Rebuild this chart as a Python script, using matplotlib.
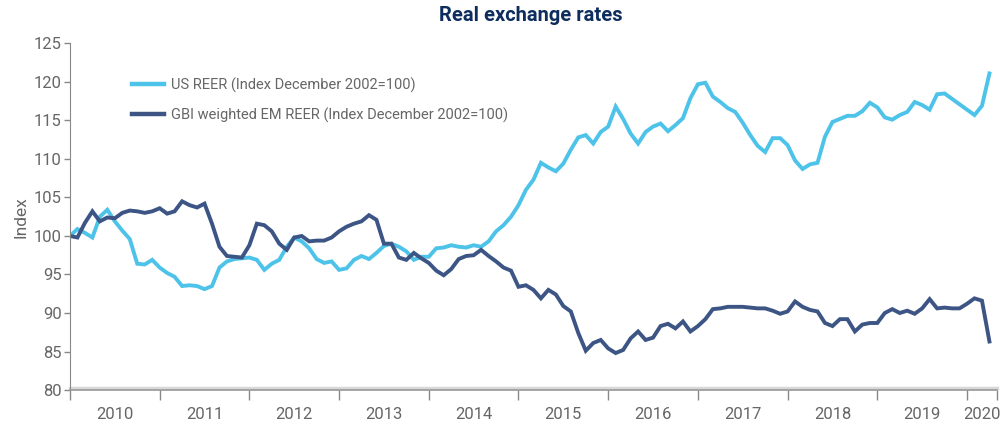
import numpy as np
import matplotlib
matplotlib.use("Agg")
from matplotlib import pyplot as plt
import matplotlib.ticker as ticker

plt.rcParams['font.family'] = ['Roboto', 'DejaVu Sans']

# monthly values, Jan 2010 .. Apr 2020
us_reer = [100.0, 100.9, 100.4, 99.8, 102.5, 103.4, 101.9, 100.7, 99.6, 96.4, 96.3, 96.9,
           95.9, 95.2, 94.7, 93.5, 93.6, 93.5, 93.1, 93.5, 95.9, 96.7, 97.0, 97.1,
           97.2, 96.9, 95.6, 96.4, 96.9, 98.6, 99.8, 99.3, 98.4, 97.0, 96.5, 96.7,
           95.6, 95.8, 96.9, 97.4, 97.0, 97.8, 98.7, 99.0, 98.6, 98.0, 96.9, 97.3,
           97.3, 98.4, 98.5, 98.8, 98.6, 98.5, 98.8, 98.6, 99.3, 100.6, 101.4, 102.5,
           104.0, 106.0, 107.3, 109.5, 108.9, 108.4, 109.4, 111.2, 112.8, 113.1, 112.0, 113.5,
           114.2, 116.8, 115.2, 113.3, 112.0, 113.5, 114.2, 114.6, 113.6, 114.4, 115.3, 117.9,
           119.7, 119.9, 118.1, 117.4, 116.6, 116.1, 114.7, 113.1, 111.7, 110.9, 112.7, 112.7,
           111.8, 109.8, 108.7, 109.3, 109.5, 112.9, 114.8, 115.2, 115.6, 115.6, 116.2, 117.3,
           116.7, 115.4, 115.1, 115.7, 116.1, 117.4, 117.0, 116.4, 118.4, 118.5, 117.8, 117.1,
           116.4, 115.7, 116.9, 121.1]

em_reer = [100.0, 99.8, 101.7, 103.2, 101.9, 102.4, 102.3, 103.0, 103.3, 103.2, 103.0, 103.2,
           103.6, 102.9, 103.2, 104.5, 104.0, 103.7, 104.2, 101.6, 98.6, 97.4, 97.3, 97.2,
           98.8, 101.6, 101.4, 100.6, 99.0, 98.2, 99.8, 100.0, 99.3, 99.4, 99.4, 99.8,
           100.6, 101.2, 101.6, 101.9, 102.7, 102.1, 99.0, 99.0, 97.2, 96.9, 97.8, 97.1,
           96.5, 95.5, 94.9, 95.7, 97.0, 97.4, 97.5, 98.2, 97.4, 96.7, 95.9, 95.5,
           93.4, 93.6, 93.0, 91.9, 93.0, 92.4, 90.9, 90.2, 87.4, 85.1, 86.1, 86.5,
           85.4, 84.8, 85.2, 86.7, 87.6, 86.5, 86.8, 88.3, 88.6, 88.0, 88.9, 87.6,
           88.3, 89.2, 90.5, 90.6, 90.8, 90.8, 90.8, 90.7, 90.6, 90.6, 90.3, 89.9,
           90.2, 91.5, 90.8, 90.4, 90.2, 88.7, 88.3, 89.2, 89.2, 87.6, 88.5, 88.7,
           88.7, 90.0, 90.5, 90.0, 90.3, 89.9, 90.6, 91.8, 90.6, 90.7, 90.6, 90.6,
           91.2, 91.9, 91.6, 86.3]

years = ['2010', '2011', '2012', '2013', '2014', '2015', '2016', '2017', '2018', '2019', '2020']

months = np.arange(len(us_reer))
grey = '#666666'

fig = plt.figure(figsize=(10.08, 4.3), dpi=100)
ax = fig.add_axes([0.0694, 0.093, 0.9196, 0.806])

ax.plot(months, us_reer, color='#4EC3E9', lw=2.8, label='US REER (Index December 2002=100)',
        solid_joinstyle='miter')
ax.plot(months, em_reer, color='#3D5585', lw=2.8, label='GBI weighted EM REER (Index December 2002=100)',
        solid_joinstyle='miter')

ax.set_xlim(0, 124)
ax.set_ylim(80, 125)
ax.yaxis.set_major_locator(ticker.MultipleLocator(5))

# year boundaries as ticks, labels centred in between
ax.set_xticks(list(range(0, 121, 12)) + [124])
ax.set_xticklabels([])
mids = [12 * i + 6 for i in range(10)] + [122]
ax.set_xticks(mids, minor=True)
ax.set_xticklabels(years, minor=True)
ax.tick_params(axis='x', which='major', length=7, width=1, color='#888888', direction='out')
ax.tick_params(axis='x', which='minor', length=0, pad=12, labelsize=12, labelcolor=grey)
ax.tick_params(axis='y', length=4, width=1, color='#888888', labelsize=12, labelcolor=grey, pad=2)

for s in ['top', 'right']:
    ax.spines[s].set_visible(False)
ax.spines['left'].set_color('#888888')
ax.spines['bottom'].set_color('#999999')
ax.spines['bottom'].set_linewidth(1.2)
ax.axhline(80.25, color='#d8d8d8', lw=2.5, zorder=1, clip_on=False)

ax.set_ylabel('Index', fontsize=12.5, color=grey, labelpad=4)
fig.suptitle('Real exchange rates', x=0.527, y=0.985, fontsize=14.5, fontweight='bold', color='#0D2D5E')

leg = ax.legend(loc='upper left', bbox_to_anchor=(0.131, 0.82), bbox_transform=fig.transFigure,
                frameon=False, fontsize=10.5, handlelength=2.2, handletextpad=0.5,
                labelspacing=1.0, borderpad=0, borderaxespad=0)
for t in leg.get_texts():
    t.set_color(grey)
for l in leg.get_lines():
    l.set_linewidth(3.2)

plt.savefig('out.png', dpi=100)
